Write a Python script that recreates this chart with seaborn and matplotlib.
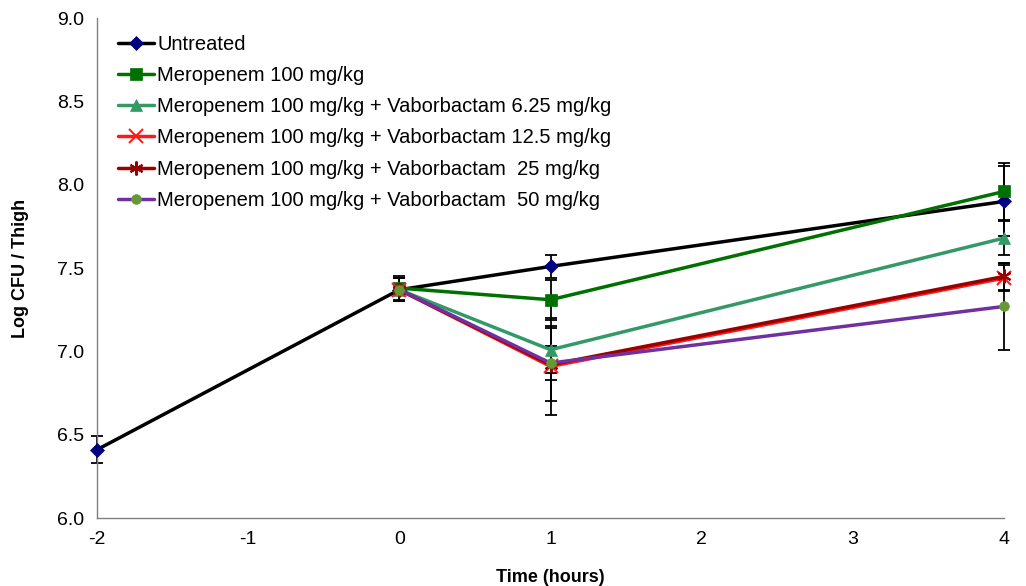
import pandas as pd
import matplotlib
matplotlib.use("Agg")
import matplotlib.pyplot as plt
import seaborn as sns

# Dati
labels = ["Untreated",
          "Meropenem 100 mg/kg",
          "Meropenem 100 mg/kg + Vaborbactam 6.25 mg/kg",
          "Meropenem 100 mg/kg + Vaborbactam 12.5 mg/kg",
          "Meropenem 100 mg/kg + Vaborbactam  25 mg/kg",
          "Meropenem 100 mg/kg + Vaborbactam  50 mg/kg"]
times = [[-2, 0, 1, 4], [0, 1, 4], [0, 1, 4], [0, 1, 4], [0, 1, 4], [0, 1, 4]]
untreated = [6.41, 7.37, 7.51, 7.90]
mero = [7.38, 7.31, 7.96]
vab_625 = [7.37, 7.01, 7.68]
vab_125 = [7.37, 6.91, 7.44]
vab_25 = [7.37, 6.92, 7.45]
vab_50 = [7.37, 6.93, 7.27]
err_untreated = [0.08, 0.07, 0.07, 0.21]
err_mero = [0.07, 0.12, 0.17]
err_625 = [0.07, 0.14, 0.10]
err_125 = [0.07, 0.29, 0.08]
err_25 = [0.07, 0.22, 0.08]
err_50 = [0.07, 0.10, 0.26]

values = [untreated, mero, vab_625, vab_125, vab_25, vab_50]
errors = [err_untreated, err_mero, err_625, err_125, err_25, err_50]

line_colors = ["black", "#007000", "#339966", "#FF1A1A", "#990000", "#7030A0"]
marker_colors = ["#000080", "#007000", "#339966", "#FF1A1A", "#990000", "#669933"]
markers = ["D", "s", "^", "x", (6, 2, 0), "o"]
msizes = [7, 9, 9, 10, 10, 7]

rows = []
for lab, t, v in zip(labels, times, values):
    for ti, vi in zip(t, v):
        rows.append({"Serie": lab, "Time": ti, "Log": vi})
df = pd.DataFrame(rows)

sns.set_style("white")
plt.rcParams["font.family"] = ["Liberation Sans", "DejaVu Sans"]
plt.rcParams["axes.unicode_minus"] = False
plt.rcParams["text.color"] = "black"
plt.rcParams["axes.labelcolor"] = "black"

fig, ax = plt.subplots(figsize=(10.26, 5.86), dpi=100)
fig.subplots_adjust(left=0.0945, right=0.9786, top=0.969, bottom=0.116)

# barre d'errore sotto le linee
for t, v, e in zip(times, values, errors):
    ax.errorbar(t, v, yerr=e, fmt="none", ecolor="black", elinewidth=1.3,
                capsize=4, capthick=1.3, zorder=1, clip_on=False)

for i, lab in enumerate(labels):
    sub = df[df["Serie"] == lab]
    sns.lineplot(data=sub, x="Time", y="Log", ax=ax, color=line_colors[i],
                 linewidth=2.5, marker=markers[i], markersize=msizes[i],
                 markerfacecolor=marker_colors[i], markeredgecolor=marker_colors[i],
                 markeredgewidth=1.5 if i in (3, 4) else 0.5,
                 label=lab, zorder=3 + i, clip_on=False)

ax.set_xlim(-2, 4)
ax.set_ylim(6.0, 9.0)
ax.set_xticks([-2, -1, 0, 1, 2, 3, 4])
ax.set_yticks([6.0, 6.5, 7.0, 7.5, 8.0, 8.5, 9.0])
ax.set_yticklabels([f"{y:.1f}" for y in [6.0, 6.5, 7.0, 7.5, 8.0, 8.5, 9.0]])
ax.tick_params(axis="both", labelsize=14, direction="inout", length=9,
               width=1, color="#808080", labelcolor="black", pad=5)
for s in ["top", "right"]:
    ax.spines[s].set_visible(False)
for s in ["left", "bottom"]:
    ax.spines[s].set_color("#808080")
    ax.spines[s].set_linewidth(1)

ax.set_xlabel("Time (hours)", fontsize=13, fontweight="bold", labelpad=15)
ax.set_ylabel("Log CFU / Thigh", fontsize=13, fontweight="bold", labelpad=20)

ax.legend(loc="upper left", bbox_to_anchor=(0.01, 0.99), frameon=False,
          fontsize=14.5, handlelength=1.8, handletextpad=0.15, labelspacing=0.6,
          borderaxespad=0.2)

plt.savefig("out.png", dpi=100)
